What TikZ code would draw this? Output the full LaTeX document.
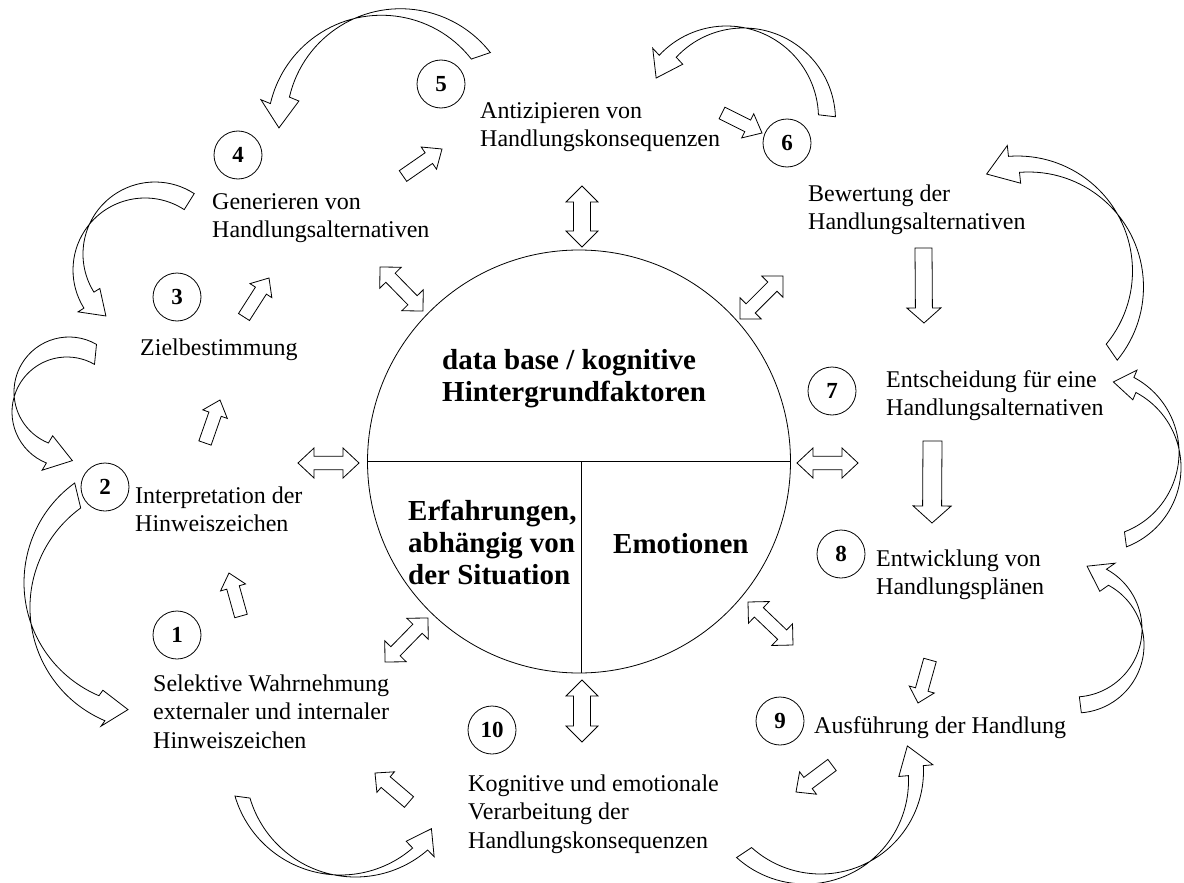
\documentclass[tikz,border=0pt]{standalone}
\usepackage{fontspec}
\setmainfont{Liberation Serif}
\usetikzlibrary{calc}
\tikzset{
  band/.style={draw, line width=0.8pt, line join=miter},
  blk/.style={draw, line width=0.8pt, fill=white, line join=miter},
  numc/.style={draw, circle, minimum size=48pt, inner sep=0pt, line width=0.8pt, font=\fontsize{23}{23}\selectfont\bfseries},
  lbl/.style={anchor=base west, inner sep=0pt, font=\fontsize{24}{28.5}\selectfont},
  blbl/.style={anchor=base west, inner sep=0pt, font=\bfseries\fontsize{29}{32}\selectfont}
}
% curved (ribbon) arrow: cx, cy, dx, dy, R, t1, t2, head angle offset, head half-width
\newcommand\carrow[9]{%
 \pgfmathsetmacro\cas{ifthenelse(#7>#6,1,-1)}%
 \pgfmathsetmacro\cahd{#7+\cas*90+#8}%
 \pgfmathsetmacro\canx{cos(\cahd+90)}%
 \pgfmathsetmacro\cany{sin(\cahd+90)}%
 \pgfmathsetmacro\casg{ifthenelse((#3)*\canx+(#4)*\cany>0,-1,1)}%
 \pgfmathsetmacro\camx{#1+#5*cos(#7)}%
 \pgfmathsetmacro\camy{#2+#5*sin(#7)}%
 \pgfmathsetmacro\caax{\camx+\casg*#9*\canx}%
 \pgfmathsetmacro\caay{\camy+\casg*#9*\cany}%
 \pgfmathsetmacro\cabx{\camx-\casg*#9*\canx}%
 \pgfmathsetmacro\caby{\camy-\casg*#9*\cany}%
 \pgfmathsetmacro\catx{\camx+1.45*#9*cos(\cahd)}%
 \pgfmathsetmacro\caty{\camy+1.45*#9*sin(\cahd)}%
 \pgfmathsetmacro\caox{#1-(#3)/2}%
 \pgfmathsetmacro\caoy{#2-(#4)/2}%
 \pgfmathsetmacro\caqx{#1+(#3)/2}%
 \pgfmathsetmacro\caqy{#2+(#4)/2}%
 \draw[band] ($(\caox,\caoy)+(#6:#5)$) arc[start angle=#6,end angle=#7,radius=#5]
   -- (\caax,\caay) -- (\catx,\caty) -- (\cabx,\caby)
   -- ($(\caqx,\caqy)+(#7:#5)$) arc[start angle=#7,end angle=#6,radius=#5] -- cycle;
}
% straight block arrow: tail, tip, shaft half-width, head half-width, head length
\newcommand\sarrow[5]{%
 \coordinate (sab) at ($(#2)!#5pt!(#1)$);
 \draw[blk] ($(#1)!#3pt!90:(#2)$) -- ($(sab)!#3pt!90:(#2)$) -- ($(sab)!#4pt!90:(#2)$) -- (#2)
   -- ($(sab)!#4pt!-90:(#2)$) -- ($(sab)!#3pt!-90:(#2)$) -- ($(#1)!#3pt!-90:(#2)$) -- cycle;
}
% double block arrow: tip A, tip B, shaft half-width, head half-width, head length
\newcommand\darrow[5]{%
 \coordinate (dba) at ($(#1)!#5pt!(#2)$);
 \coordinate (dbb) at ($(#2)!#5pt!(#1)$);
 \draw[blk] (#1) -- ($(dba)!#4pt!90:(#2)$) -- ($(dba)!#3pt!90:(#2)$) -- ($(dbb)!#3pt!90:(#2)$)
   -- ($(dbb)!#4pt!90:(#2)$) -- (#2) -- ($(dbb)!#4pt!-90:(#2)$) -- ($(dbb)!#3pt!-90:(#2)$)
   -- ($(dba)!#3pt!-90:(#2)$) -- ($(dba)!#4pt!-90:(#2)$) -- cycle;
}
\begin{document}
\begin{tikzpicture}[x=1pt,y=-1pt]
\useasboundingbox (0,0) rectangle (1184,883);

% central circle
\node[draw, circle, minimum size=423pt, inner sep=0pt, line width=0.8pt] (db) at (579,461.5) {};
\draw[line width=0.8pt] (db.west) -- (db.east);
\coordinate (vtop) at (581,461.5);
\draw[line width=0.8pt] (vtop) -- (vtop |- db.south);

\node[blbl] (dbt) at (442,369) {\begin{tabular}[t]{@{}l@{}}data base / kognitive\\Hintergrundfaktoren\end{tabular}};
\node[blbl] (erf) at (408,520) {\begin{tabular}[t]{@{}l@{}}Erfahrungen,\\abhängig von\\der Situation\end{tabular}};
\node[blbl] (emo) at (613,553) {Emotionen};

% numbered circles
\node[numc] (n1) at (177,635) {1};
\node[numc] (n2) at (105,487) {2};
\node[numc] (n3) at (177,297) {3};
\node[numc] (n4) at (238,155) {4};
\node[numc] (n5) at (441,84) {5};
\node[numc] (n6) at (787,143) {6};
\node[numc] (n7) at (832,391) {7};
\node[numc] (n8) at (841,554) {8};
\node[numc] (n9) at (780,721) {9};
\node[numc] (n10) at (492,730) {10};

% step texts
\node[lbl] (t1) at (153,691) {\begin{tabular}[t]{@{}l@{}}Selektive Wahrnehmung\\externaler und internaler\\Hinweiszeichen\end{tabular}};
\node[lbl] (t2) at (135,503) {\begin{tabular}[t]{@{}l@{}}Interpretation der\\Hinweiszeichen\end{tabular}};
\node[lbl] (t3) at (140,355) {Zielbestimmung};
\node[lbl] (t4) at (212,209) {\begin{tabular}[t]{@{}l@{}}Generieren von\\Handlungsalternativen\end{tabular}};
\node[lbl] (t5) at (480,118) {\begin{tabular}[t]{@{}l@{}}Antizipieren von\\Handlungskonsequenzen\end{tabular}};
\node[lbl] (t6) at (808,201) {\begin{tabular}[t]{@{}l@{}}Bewertung der\\Handlungsalternativen\end{tabular}};
\node[lbl] (t7) at (886,387) {\begin{tabular}[t]{@{}l@{}}Entscheidung für eine\\Handlungsalternativen\end{tabular}};
\node[lbl] (t8) at (876,566) {\begin{tabular}[t]{@{}l@{}}Entwicklung von\\Handlungsplänen\end{tabular}};
\node[lbl] (t9) at (814,733) {Ausführung der Handlung};
\node[lbl] (t10) at (468,791) {\begin{tabular}[t]{@{}l@{}}Kognitive und emotionale\\Verarbeitung der\\Handlungskonsequenzen\end{tabular}};

% forward block arrows
\coordinate (a12t) at (241,616); \coordinate (a12h) at (229,573);
\coordinate (a23t) at (205,443); \coordinate (a23h) at (220,400);
\coordinate (a34t) at (244,317); \coordinate (a34h) at (269,278);
\coordinate (a45t) at (403,176); \coordinate (a45h) at (442,149);
\coordinate (a56t) at (722,113); \coordinate (a56h) at (762,133);
\coordinate (a67t) at (923.5,248); \coordinate (a67h) at (924,323);
\coordinate (a78t) at (932.5,441); \coordinate (a78h) at (932,523);
\coordinate (a89t) at (930,660); \coordinate (a89h) at (918,703);
\coordinate (a910t) at (832,765); \coordinate (a910h) at (796,792);
\coordinate (a101t) at (409,802); \coordinate (a101h) at (375,773);
\sarrow{a12t}{a12h}{6.5}{13}{15}
\sarrow{a23t}{a23h}{6.5}{13}{15}
\sarrow{a34t}{a34h}{6.5}{13}{15}
\sarrow{a45t}{a45h}{6.5}{13.5}{16}
\sarrow{a56t}{a56h}{6.5}{13.5}{16}
\sarrow{a67t}{a67h}{8.5}{17}{15}
\sarrow{a78t}{a78h}{9.5}{19}{17}
\sarrow{a89t}{a89h}{6.5}{13}{14}
\sarrow{a910t}{a910h}{7}{14}{15}
\sarrow{a101t}{a101h}{7}{13.5}{14}

% double arrows to the central circle
\coordinate (dTa) at (582,186); \coordinate (dTb) at (582,247);
\coordinate (dBa) at (582,680); \coordinate (dBb) at (582,742);
\coordinate (dLa) at (298,463); \coordinate (dLb) at (359,463);
\coordinate (dRa) at (797,463); \coordinate (dRb) at (858,463);
\coordinate (dULa) at (380,267); \coordinate (dULb) at (423,311);
\coordinate (dURa) at (783,276); \coordinate (dURb) at (740,319);
\coordinate (dLLa) at (428,618); \coordinate (dLLb) at (385,662);
\coordinate (dLRa) at (748,602); \coordinate (dLRb) at (793,645);
\darrow{dTa}{dTb}{8.5}{16}{16}
\darrow{dBa}{dBb}{8.5}{16}{16}
\darrow{dLa}{dLb}{6.7}{15}{16}
\darrow{dRa}{dRb}{6.7}{15}{16}
\darrow{dULa}{dULb}{6.5}{15}{15}
\darrow{dURa}{dURb}{6.5}{15}{15}
\darrow{dLLa}{dLLb}{6.5}{15}{15}
\darrow{dLRa}{dLRb}{6.5}{15}{15}

% curved feedback arrows
\carrow{391}{126}{19}{-6.5}{114}{-38}{-167}{-11}{19}
\carrow{150}{262}{10}{-16}{72}{-57}{-212}{-15}{16}
\carrow{68}{402}{-2}{20}{55}{-60}{-248}{-5}{18}
\carrow{150}{595}{6}{25}{123}{234}{113}{-20}{18}
\carrow{348}{766}{15}{2}{110}{163.6}{49}{-20}{16}
\carrow{813}{776}{15}{-10}{103}{132}{-3}{-16}{18}
\carrow{1075}{637}{2}{16}{68}{85.5}{-61.5}{0}{16}
\carrow{1095}{460}{2}{15}{85}{69}{-62}{-20}{15}
\carrow{1023}{279}{11}{16}{115}{39.5}{-94.5}{-15}{20}
\carrow{735}{119}{17}{2}{92}{-2}{-137}{-15}{17}
\end{tikzpicture}
\end{document}
